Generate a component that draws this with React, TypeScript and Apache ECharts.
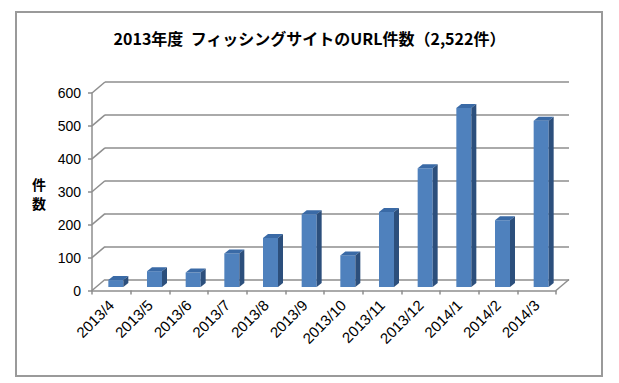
import React, { useEffect, useRef } from "react";
import * as echarts from "echarts";

const categories = [
  "2013/4", "2013/5", "2013/6", "2013/7", "2013/8", "2013/9",
  "2013/10", "2013/11", "2013/12", "2014/1", "2014/2", "2014/3",
];
const counts = [21, 48, 44, 102, 149, 221, 96, 228, 361, 544, 203, 505];
const yTicks = [0, 100, 200, 300, 400, 500, 600];
const titleText = "2013年度  フィッシングサイトのURL件数（2,522件）";
const yNameChars = ["件", "数"];

const DX = 13;
const DY = -11;

export default function App() {
  const ref = useRef<HTMLDivElement>(null);
  useEffect(() => {
    const chart = echarts.init(ref.current!, null, { renderer: "svg" });
    const option: any = {
      animation: false,
      backgroundColor: "#ffffff",
      textStyle: { fontFamily: "Liberation Sans" },
      title: {
        text: titleText,
        left: "center",
        top: 30,
        padding: 0,
        textStyle: {
          fontFamily: "Noto Sans CJK JP",
          fontSize: 16,
          fontWeight: "bold",
          color: "#000",
        },
      },
      graphic: [
        {
          type: "rect",
          shape: { x: 16, y: 12, width: 586, height: 364 },
          style: { fill: "none", stroke: "#9a9a9a", lineWidth: 2 },
          silent: true,
        },
        ...yNameChars.map((ch, k) => ({
          type: "text",
          x: 39,
          y: 184 + k * 19,
          style: {
            text: ch,
            fontFamily: "Noto Sans CJK JP",
            fontWeight: "bold",
            fontSize: 14,
            fill: "#000",
            align: "center",
            verticalAlign: "middle",
          },
        })),
      ],
      grid: [
        { left: 92, top: 93, width: 464, height: 197.5 },
        { left: 105, top: 82, width: 464, height: 197.5 },
      ],
      xAxis: [
        {
          type: "category",
          gridIndex: 0,
          data: categories,
          boundaryGap: true,
          axisLine: { show: true, lineStyle: { color: "#8e8e8e", width: 1.5 } },
          axisTick: { show: true, length: 4, lineStyle: { color: "#8e8e8e", width: 1.5 } },
          axisLabel: { rotate: 45, interval: 0, fontSize: 15, color: "#000", margin: 12 },
          splitLine: { show: false },
        },
        { type: "category", gridIndex: 1, data: categories, show: false },
      ],
      yAxis: [
        {
          type: "value",
          gridIndex: 0,
          min: 0,
          max: 600,
          interval: 100,
          axisLine: { show: true, lineStyle: { color: "#8e8e8e", width: 1.5 } },
          axisTick: { show: true, length: 4, lineStyle: { color: "#8e8e8e", width: 1.5 } },
          axisLabel: { fontSize: 14, color: "#000", margin: 11 },
          splitLine: { show: false },
        },
        {
          type: "value",
          gridIndex: 1,
          min: 0,
          max: 600,
          interval: 100,
          axisLine: { show: false },
          axisTick: { show: false },
          axisLabel: { show: false },
          splitLine: { show: true, lineStyle: { color: "#8e8e8e", width: 1.5 } },
        },
      ],
      series: [
        {
          type: "custom",
          xAxisIndex: 0,
          yAxisIndex: 0,
          data: yTicks.map((v) => [0, v]),
          encode: { x: 0, y: 1 },
          silent: true,
          renderItem: (params: any, api: any) => {
            const cs = params.coordSys;
            const v = api.value(1);
            const p = api.coord([0, v]);
            const children: any[] = [
              {
                type: "line",
                shape: { x1: cs.x, y1: p[1], x2: cs.x + DX, y2: p[1] + DY },
                style: { stroke: "#8e8e8e", lineWidth: 1.5 },
              },
            ];
            if (v === 0) {
              const xr = cs.x + cs.width;
              children.push({
                type: "line",
                shape: { x1: xr, y1: p[1], x2: xr + DX, y2: p[1] + DY },
                style: { stroke: "#8e8e8e", lineWidth: 1.5 },
              });
            }
            return { type: "group", children };
          },
        },
        {
          type: "custom",
          xAxisIndex: 0,
          yAxisIndex: 0,
          data: counts.map((v, i) => [i, v]),
          encode: { x: 0, y: 1 },
          renderItem: (params: any, api: any) => {
            const i = api.value(0);
            const v = api.value(1);
            const base = api.coord([i, 0]);
            const top = api.coord([i, v]);
            const cx = base[0] + 4.5;
            const y0 = base[1] - 3.5;
            const y1 = top[1] - 3.5;
            const hw = 7.5;
            const sx = 5;
            const sy = -4;
            return {
              type: "group",
              children: [
                {
                  type: "polygon",
                  shape: {
                    points: [
                      [cx - hw, y1],
                      [cx + hw, y1],
                      [cx + hw, y0],
                      [cx - hw, y0],
                    ],
                  },
                  style: { fill: "#4f81bd" },
                },
                {
                  type: "polygon",
                  shape: {
                    points: [
                      [cx - hw, y1],
                      [cx + hw, y1],
                      [cx + hw + sx, y1 + sy],
                      [cx - hw + sx, y1 + sy],
                    ],
                  },
                  style: { fill: "#3a6aa6" },
                },
                {
                  type: "polygon",
                  shape: {
                    points: [
                      [cx + hw, y1],
                      [cx + hw + sx, y1 + sy],
                      [cx + hw + sx, y0 + sy],
                      [cx + hw, y0],
                    ],
                  },
                  style: { fill: "#2c4f7c" },
                },
              ],
            };
          },
        },
      ],
    };
    chart.setOption(option);
    return () => chart.dispose();
  }, []);
  return (
    <div
      ref={ref}
      style={{ position: "fixed", left: 0, top: 0, width: 619, height: 383 }}
    />
  );
}
